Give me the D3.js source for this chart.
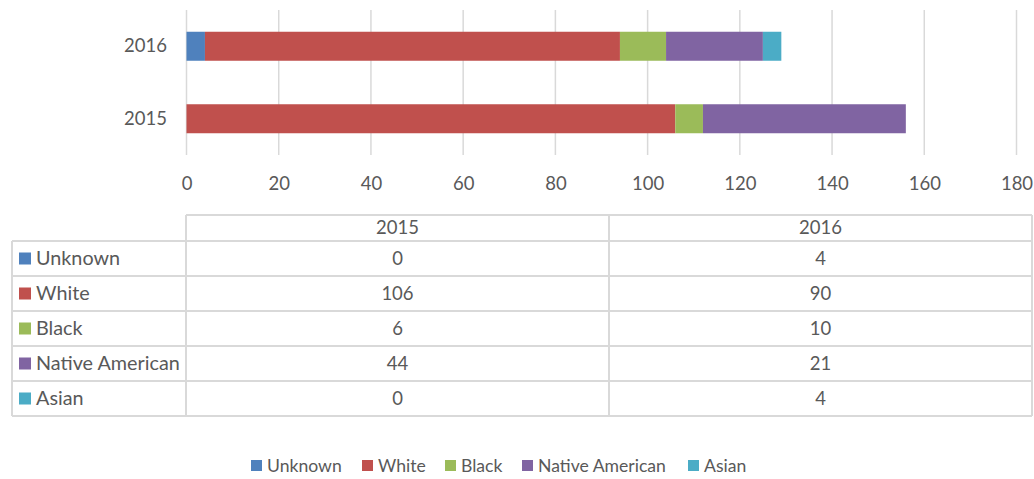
<!DOCTYPE html>
<html><head><meta charset="utf-8">
<script src="https://cdn.jsdelivr.net/npm/d3@7"></script>
<style>
html,body{margin:0;padding:0;background:#fff;}
text{font-family:Lato,"Open Sans",sans-serif;fill:#595959;}
</style></head>
<body><svg id="c" width="1034" height="479"></svg>
<script>
const years = ["2015","2016"];
const series = ["Unknown","White","Black","Native American","Asian"];
const colors = ["#4F81BD","#C0504D","#9BBB59","#8064A2","#4BACC6"];
const values2015 = [0,106,6,44,0];
const values2016 = [4,90,10,21,4];
const xTicks = [0,20,40,60,80,100,120,140,160,180];

const valuesByYear = {"2015": values2015, "2016": values2016};
const svg = d3.select("#c");
const x = d3.scaleLinear().domain([0,180]).range([186.5,1016.5]);
const y = d3.scaleBand().domain(["2016","2015"]).range([10,155]).paddingInner(0.6).paddingOuter(0.3);
const color = d3.scaleOrdinal().domain(series).range(colors);

// gridlines
svg.append("g").selectAll("line").data(xTicks).join("line")
  .attr("x1",d=>x(d)).attr("x2",d=>x(d)).attr("y1",10).attr("y2",155)
  .attr("stroke","#D9D9D9").attr("stroke-width",1.5);

// stacked bars
const rows = years.map(yr=>{const o={year:yr}; series.forEach((s,i)=>o[s]=valuesByYear[yr][i]); return o;});
const stack = d3.stack().keys(series)(rows);
svg.append("g").selectAll("g").data(stack).join("g").attr("fill",d=>color(d.key))
  .selectAll("rect").data(d=>d).join("rect")
  .attr("x",d=>x(d[0])).attr("width",d=>x(d[1])-x(d[0]))
  .attr("y",d=>y(d.data.year)).attr("height",y.bandwidth());

// y labels
const yAxis = d3.axisLeft(y).tickSize(0).tickPadding(0);
const gy = svg.append("g").attr("transform","translate(167,0)").call(yAxis);
gy.select(".domain").remove();
gy.selectAll("text").attr("font-size",18.5).style("fill","#595959");

// x axis
const xAxis = d3.axisBottom(x).tickValues(xTicks).tickSize(0).tickPadding(0);
const gx = svg.append("g").attr("transform","translate(0,177)").call(xAxis);
gx.select(".domain").remove();
gx.selectAll("text").attr("font-size",18.5).attr("dy","0.71em").style("fill","#595959");

// data table
const tbl = svg.append("g");
const colEdges = [12,186,609,1032];
const rowEdges = [215,241,276,311,346,381,416];
const lc = "#D9D9D9", lw = 2;
rowEdges.forEach((ry,i)=>{
  tbl.append("line").attr("x1", i===0?colEdges[1]:colEdges[0]).attr("x2",colEdges[3])
    .attr("y1",ry).attr("y2",ry).attr("stroke",lc).attr("stroke-width",lw);
});
colEdges.forEach((cx,i)=>{
  tbl.append("line").attr("x1",cx).attr("x2",cx)
    .attr("y1", i===0?rowEdges[1]:rowEdges[0]).attr("y2",rowEdges[rowEdges.length-1])
    .attr("stroke",lc).attr("stroke-width",lw);
});
years.forEach((yr,j)=>{
  tbl.append("text").attr("x",(colEdges[j+1]+colEdges[j+2])/2).attr("y",(rowEdges[0]+rowEdges[1])/2)
    .attr("dy","0.35em").attr("text-anchor","middle").attr("font-size",18.5).text(yr);
});
series.forEach((s,i)=>{
  const cy = (rowEdges[i+1]+rowEdges[i+2])/2;
  tbl.append("rect").attr("x",19).attr("y",cy-6).attr("width",12).attr("height",12).attr("fill",color(s));
  tbl.append("text").attr("x",36).attr("y",cy).attr("dy","0.35em").attr("font-size",19.8).text(s);
  years.forEach((yr,j)=>{
    tbl.append("text").attr("x",(colEdges[j+1]+colEdges[j+2])/2).attr("y",cy)
      .attr("dy","0.35em").attr("text-anchor","middle").attr("font-size",18.5).text(valuesByYear[yr][i]);
  });
});

// legend
const legendX = [251,362,445,522,688];
const lg = svg.append("g");
series.forEach((s,i)=>{
  lg.append("rect").attr("x",legendX[i]).attr("y",460).attr("width",11).attr("height",11).attr("fill",color(s));
  lg.append("text").attr("x",legendX[i]+16).attr("y",466).attr("dy","0.35em").attr("font-size",17.6).text(s);
});
</script></body></html>
